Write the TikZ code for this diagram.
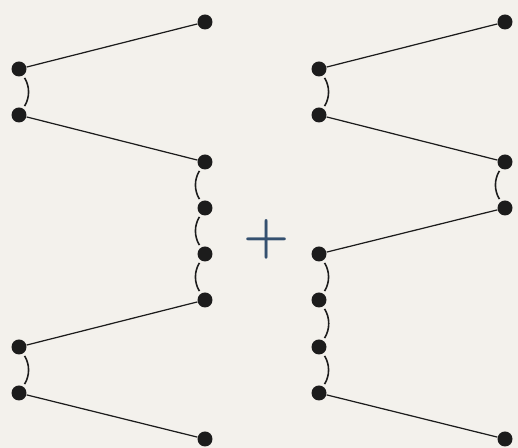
\documentclass[tikz,border=0pt]{standalone}
\usepackage{xcolor}
\usepackage{tikz}
\usetikzlibrary{positioning}
\definecolor{paper}{RGB}{243, 241, 236}
\definecolor{ink}{RGB}{28, 28, 28}
\definecolor{plusblue}{RGB}{52, 80, 111}

\begin{document}
\begin{tikzpicture}[
    x=0.02cm, y=-0.02cm,
    dot/.style={
      circle,
      inner sep=0pt,
      minimum size=0.3cm,
      fill=ink,
      draw=none
    },
    chord/.style={line width=0.7pt, color=ink},
    link/.style={line width=0.9pt, color=ink, shorten <=1.5pt, shorten >=1.5pt},
    linkr/.style={link, bend right=32},
    linkl/.style={link, bend left=32},
    plus/.style={text=plusblue, font=\fontsize{30}{30}\selectfont\bfseries, inner sep=0pt}
  ]
    \fill[paper] (0,0) rectangle (518,448);
    \useasboundingbox (0,0) rectangle (518,448);

    % left picture
    \node[dot] (a1) at (205,22) {};
    \node[dot] (a2) at (19,69) {};
    \node[dot] (a3) at (19,115) {};
    \node[dot] (a4) at (205,162) {};
    \node[dot] (a5) at (205,208) {};
    \node[dot] (a6) at (205,254) {};
    \node[dot] (a7) at (205,300) {};
    \node[dot] (a8) at (19,347) {};
    \node[dot] (a9) at (19,393) {};
    \node[dot] (a10) at (205,439) {};

    \draw[chord] (a1) -- (a2);
    \draw[chord] (a3) -- (a4);
    \draw[chord] (a7) -- (a8);
    \draw[chord] (a9) -- (a10);
    \draw[linkl] (a2) to (a3);
    \draw[linkr] (a4) to (a5);
    \draw[linkr] (a5) to (a6);
    \draw[linkr] (a6) to (a7);
    \draw[linkl] (a8) to (a9);

    \node[plus] (sum) at (267,239) {+};

    % right picture
    \node[dot] (b1) at (505,22) {};
    \node[dot] (b2) at (319,69) {};
    \node[dot] (b3) at (319,115) {};
    \node[dot] (b4) at (505,162) {};
    \node[dot] (b5) at (505,208) {};
    \node[dot] (b6) at (319,254) {};
    \node[dot] (b7) at (319,300) {};
    \node[dot] (b8) at (319,347) {};
    \node[dot] (b9) at (319,393) {};
    \node[dot] (b10) at (505,439) {};

    \draw[chord] (b1) -- (b2);
    \draw[chord] (b3) -- (b4);
    \draw[chord] (b5) -- (b6);
    \draw[chord] (b9) -- (b10);
    \draw[linkl] (b2) to (b3);
    \draw[linkr] (b4) to (b5);
    \draw[linkl] (b6) to (b7);
    \draw[linkl] (b7) to (b8);
    \draw[linkl] (b8) to (b9);
  \end{tikzpicture}
\end{document}
